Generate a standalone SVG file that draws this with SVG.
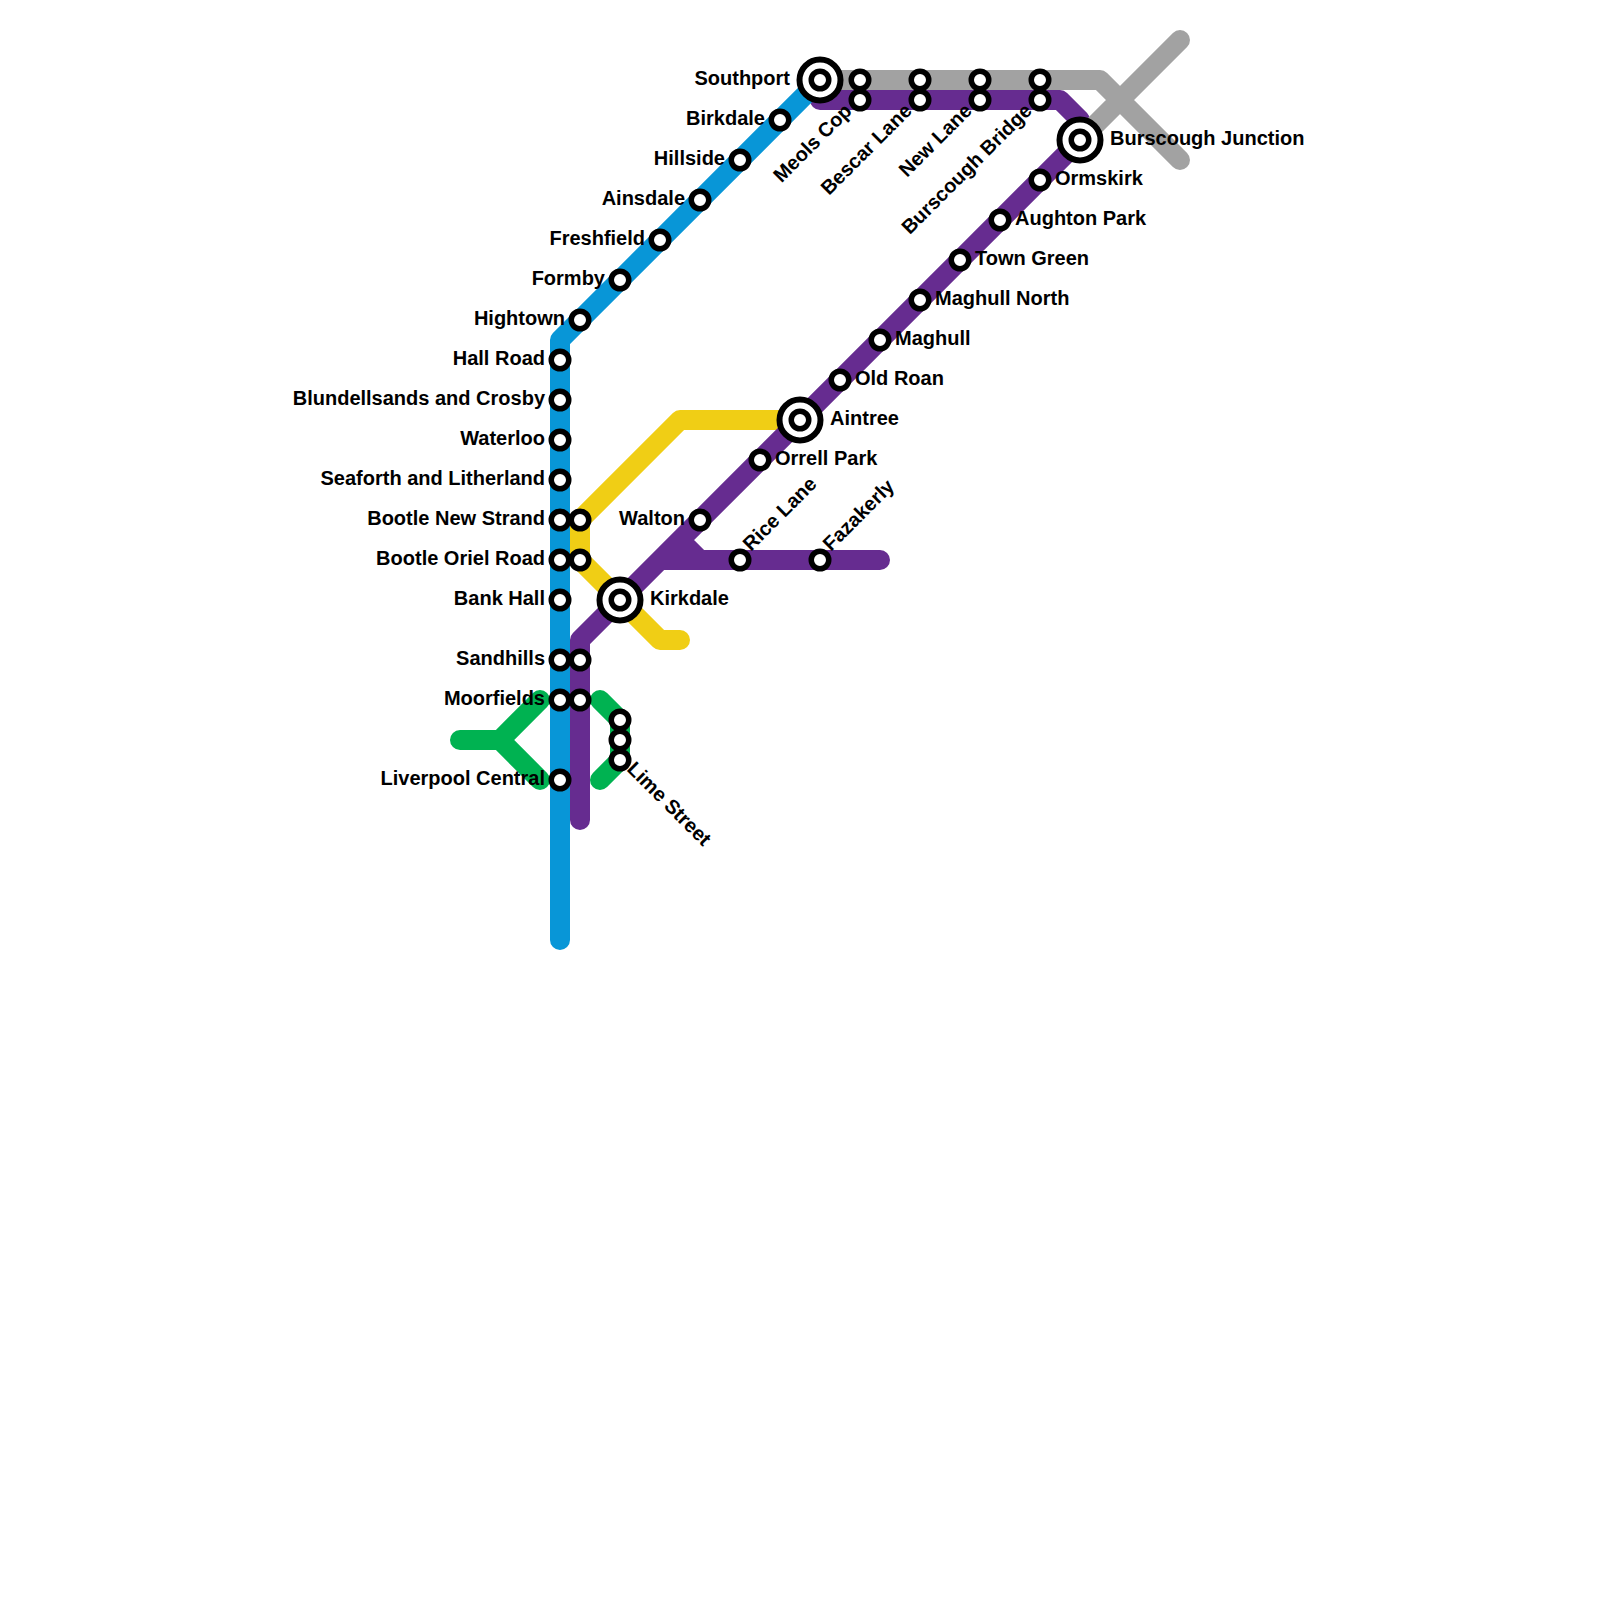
<svg xmlns="http://www.w3.org/2000/svg" width="1600" height="1600" viewBox="0 0 1600 1600">
<style>
.l{fill:none;stroke-width:20;stroke-linecap:round;stroke-linejoin:round}
.s{fill:#fff;stroke:#000;stroke-width:5.5}
.o{stroke-width:6}
text{font-family:"Liberation Sans",Arial,sans-serif;font-size:20px;font-weight:700;fill:#000}
.e{text-anchor:end}
</style>
<defs>
<g id="st"><circle class="s" r="8.75"/></g>
<g id="ix"><circle class="s o" r="20.5"/><circle class="s" r="8.75"/></g>
</defs>
<rect width="1600" height="1600" fill="#fff"/>
<g id="connectors">
<path class="l" stroke="#f0ce15" d="M780 420H680L580 520V560L660 640H680"/>
<path class="l" stroke="#00b251" d="M460 740H500L540 700M500 740L540 780"/>
<path class="l" stroke="#00b251" d="M600 700L620 720V760L600 780"/>
<path class="l" stroke="#662c90" d="M580 820V640L1080 140M820 100H1060L1080 120M880 560H660M700 560L680 540"/>
<path class="l" stroke="#a2a2a2" d="M820 80H1100L1180 160M1080 140L1180 40"/>
<path class="l" stroke="#0896d7" d="M560 940V340L820 80"/>
</g>
<g id="n-southport"><use href="#ix" x="820" y="80"/><text class="e" x="790" y="85">Southport</text></g>
<g id="n-birkdale"><use href="#st" x="780" y="120"/><text class="e" x="765" y="125">Birkdale</text></g>
<g id="n-hillside"><use href="#st" x="740" y="160"/><text class="e" x="725" y="165">Hillside</text></g>
<g id="n-ainsdale"><use href="#st" x="700" y="200"/><text class="e" x="685" y="205">Ainsdale</text></g>
<g id="n-freshfield"><use href="#st" x="660" y="240"/><text class="e" x="645" y="245">Freshfield</text></g>
<g id="n-formby"><use href="#st" x="620" y="280"/><text class="e" x="605" y="285">Formby</text></g>
<g id="n-hightown"><use href="#st" x="580" y="320"/><text class="e" x="565" y="325">Hightown</text></g>
<g id="n-hall-road"><use href="#st" x="560" y="360"/><text class="e" x="545" y="365">Hall Road</text></g>
<g id="n-blundellsands"><use href="#st" x="560" y="400"/><text class="e" x="545" y="405">Blundellsands and Crosby</text></g>
<g id="n-waterloo"><use href="#st" x="560" y="440"/><text class="e" x="545" y="445">Waterloo</text></g>
<g id="n-seaforth"><use href="#st" x="560" y="480"/><text class="e" x="545" y="485">Seaforth and Litherland</text></g>
<g id="n-bootle-new-strand"><use href="#st" x="560" y="520"/><use href="#st" x="580" y="520"/><text class="e" x="545" y="525">Bootle New Strand</text></g>
<g id="n-bootle-oriel-road"><use href="#st" x="560" y="560"/><use href="#st" x="580" y="560"/><text class="e" x="545" y="565">Bootle Oriel Road</text></g>
<g id="n-bank-hall"><use href="#st" x="560" y="600"/><text class="e" x="545" y="605">Bank Hall</text></g>
<g id="n-sandhills"><use href="#st" x="560" y="660"/><use href="#st" x="580" y="660"/><text class="e" x="545" y="665">Sandhills</text></g>
<g id="n-moorfields"><use href="#st" x="560" y="700"/><use href="#st" x="580" y="700"/><text class="e" x="545" y="705">Moorfields</text></g>
<g id="n-liverpool-central"><use href="#st" x="560" y="780"/><text class="e" x="545" y="785">Liverpool Central</text></g>
<g id="n-lime-street"><use href="#st" x="620" y="720"/><use href="#st" x="620" y="740"/><use href="#st" x="620" y="760"/><text transform="translate(626 770) rotate(45)">Lime Street</text></g>
<g id="n-kirkdale"><use href="#ix" x="620" y="600"/><text x="650" y="605">Kirkdale</text></g>
<g id="n-walton"><use href="#st" x="700" y="520"/><text class="e" x="685" y="525">Walton</text></g>
<g id="n-rice-lane"><use href="#st" x="740" y="560"/><text transform="translate(751 552) rotate(-45)">Rice Lane</text></g>
<g id="n-fazakerly"><use href="#st" x="820" y="560"/><text transform="translate(831 552) rotate(-45)">Fazakerly</text></g>
<g id="n-orrell-park"><use href="#st" x="760" y="460"/><text x="775" y="465">Orrell Park</text></g>
<g id="n-aintree"><use href="#ix" x="800" y="420"/><text x="830" y="425">Aintree</text></g>
<g id="n-old-roan"><use href="#st" x="840" y="380"/><text x="855" y="385">Old Roan</text></g>
<g id="n-maghull"><use href="#st" x="880" y="340"/><text x="895" y="345">Maghull</text></g>
<g id="n-maghull-north"><use href="#st" x="920" y="300"/><text x="935" y="305">Maghull North</text></g>
<g id="n-town-green"><use href="#st" x="960" y="260"/><text x="975" y="265">Town Green</text></g>
<g id="n-aughton-park"><use href="#st" x="1000" y="220"/><text x="1015" y="225">Aughton Park</text></g>
<g id="n-ormskirk"><use href="#st" x="1040" y="180"/><text x="1055" y="185">Ormskirk</text></g>
<g id="n-burscough-junction"><use href="#ix" x="1080" y="140"/><text x="1110" y="145">Burscough Junction</text></g>
<g id="n-meols-cop"><use href="#st" x="860" y="80"/><use href="#st" x="860" y="100"/><text class="e" transform="translate(853 112) rotate(-45)">Meols Cop</text></g>
<g id="n-bescar-lane"><use href="#st" x="920" y="80"/><use href="#st" x="920" y="100"/><text class="e" transform="translate(913 112) rotate(-45)">Bescar Lane</text></g>
<g id="n-new-lane"><use href="#st" x="980" y="80"/><use href="#st" x="980" y="100"/><text class="e" transform="translate(973 112) rotate(-45)">New Lane</text></g>
<g id="n-burscough-bridge"><use href="#st" x="1040" y="80"/><use href="#st" x="1040" y="100"/><text class="e" transform="translate(1033 112) rotate(-45)">Burscough Bridge</text></g>
</svg>
